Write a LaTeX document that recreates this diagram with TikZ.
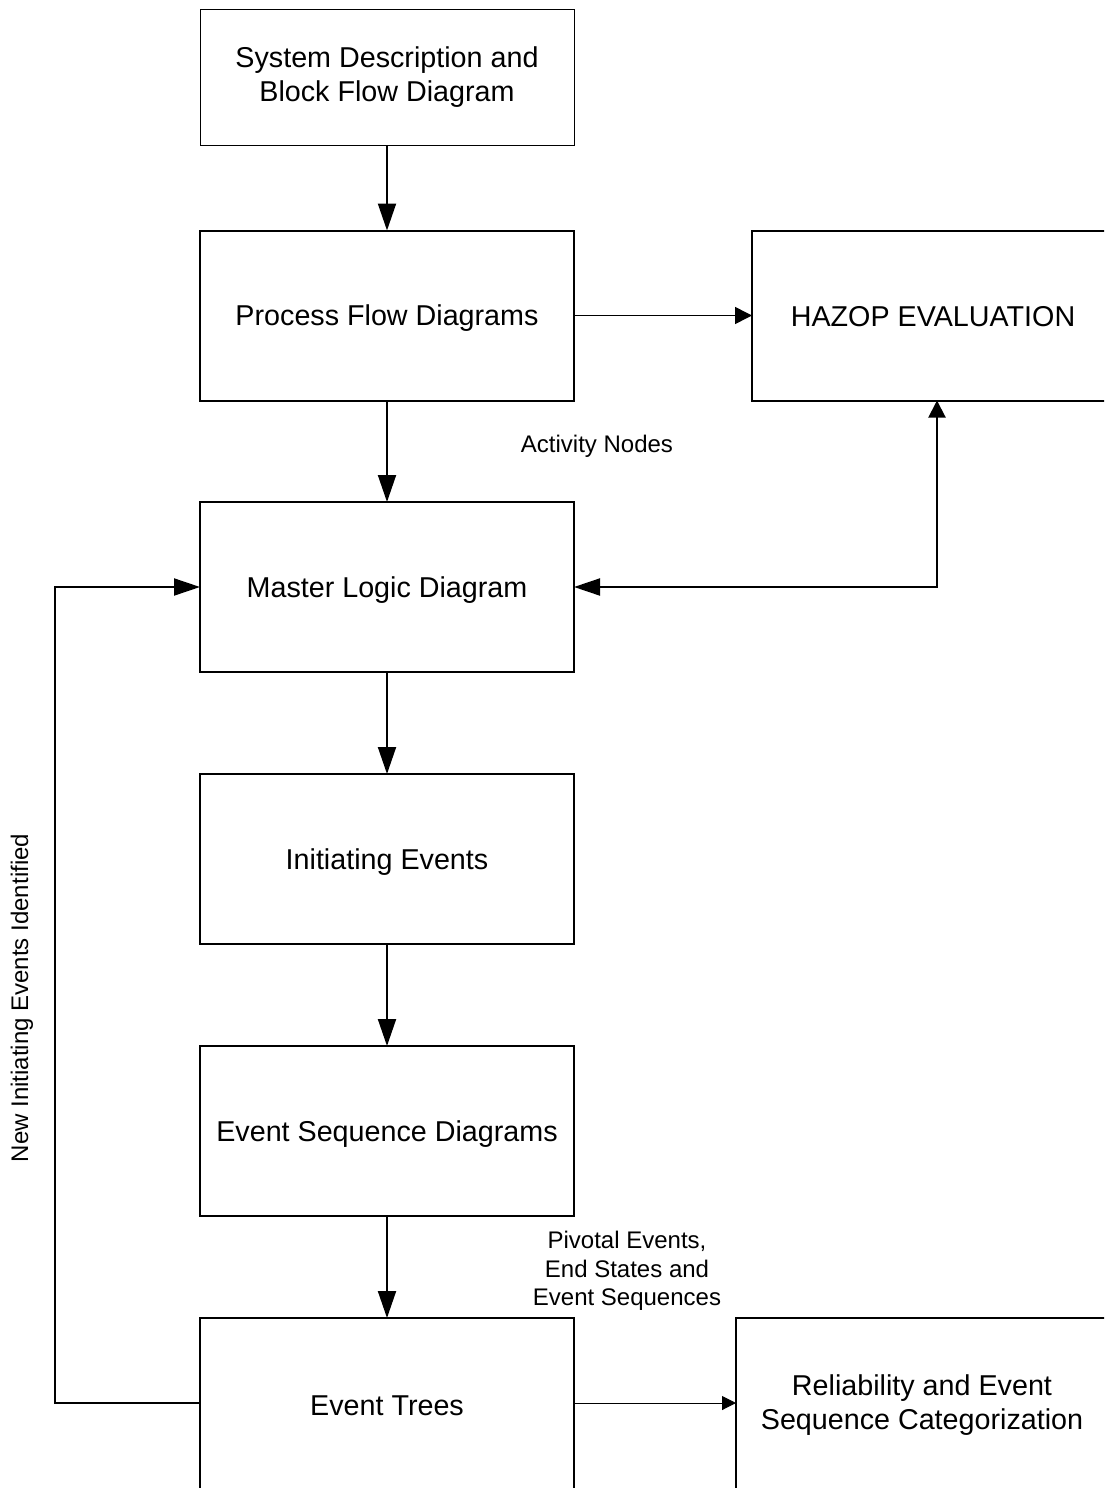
\documentclass[tikz,border=0pt]{standalone}
\usepackage{fontspec}
\setmainfont{Liberation Sans}
\usetikzlibrary{arrows.meta}
\newcommand\boxtxt{\fontsize{28.7}{34}\selectfont}
\newcommand\labtxt{\fontsize{24}{28.5}\selectfont}
% lower a label visually without changing its box
\newcommand\lowered[2]{\raisebox{-#1}[\height][\depth]{#2}}
\begin{document}
\begin{tikzpicture}[x=1pt,y=-1pt,
  stagebox/.style={draw, line width=2pt, minimum width=374pt, minimum height=170pt,
    inner sep=0pt, outer sep=0pt, align=center, font=\boxtxt},
  flow/.style={line width=2pt, -{Triangle[length=27pt,width=18pt]}},
  note/.style={align=center, font=\labtxt, inner sep=0pt}]
\useasboundingbox (0,0) rectangle (1104,1488);
\fill[white] (0,0) rectangle (1104,1488);
\clip (0,0) rectangle (1104,1488);

% main chain of activities
\node[stagebox, line width=1pt, minimum height=135pt] (sys) at (387,77.5)
  {System Description and\\Block Flow Diagram};
\node[stagebox] (pfd) at (387,315.5) {\lowered{3pt}{Process Flow Diagrams}};
\node[stagebox] (mld) at (387,587) {\lowered{3pt}{Master Logic Diagram}};
\node[stagebox] (ie)  at (387,859) {\lowered{3pt}{Initiating Events}};
\node[stagebox] (esd) at (387,1131) {\lowered{3pt}{Event Sequence Diagrams}};
\node[stagebox, minimum height=174pt] (et) at (387,1405) {\lowered{1pt}{Event Trees}};

% side activities
\node[stagebox, minimum width=366pt] (haz) at (935,315.5)
  {\hspace*{-4pt}\lowered{1pt}{HAZOP EVALUATION}};
\node[stagebox, minimum width=372pt, minimum height=174pt] (rel) at (922,1405)
  {Reliability and Event\\Sequence Categorization};

% branch points level with the Event Trees centre line
\coordinate (etw) at (200,1403);
\coordinate (ete) at (574,1403);
\coordinate (relw) at (736,1403);
\coordinate (fb) at (55,1403);

% connectors
\draw[flow] (sys) -- (pfd);
\draw[flow] (pfd) -- (mld);
\draw[flow] (mld) -- (ie);
\draw[flow] (ie) -- (esd);
\draw[flow] (esd) -- (et);
\draw[line width=1.5pt, -{Triangle[length=17pt,width=17pt]}] (pfd) -- (haz);
\draw[line width=2pt, {Triangle[length=26pt,width=17pt]}-{Triangle[length=17pt,width=17pt]}]
  (mld.east) -| ([xshift=2pt]haz.south);
\draw[line width=2pt, -{Triangle[length=26pt,width=17pt]}] (etw) -- (fb) |- (mld.west);
\draw[line width=1pt, -{Triangle[length=14pt,width=14pt]}] (ete) -- (relw);

% labels
\node[note] (act) at (597,446) {Activity Nodes};
\node[note] (piv) at (627,1271) {Pivotal Events,\\End States and\\Event Sequences};
\node[note, rotate=90] (newie) at (22,998) {New Initiating Events Identified};
\end{tikzpicture}
\end{document}
